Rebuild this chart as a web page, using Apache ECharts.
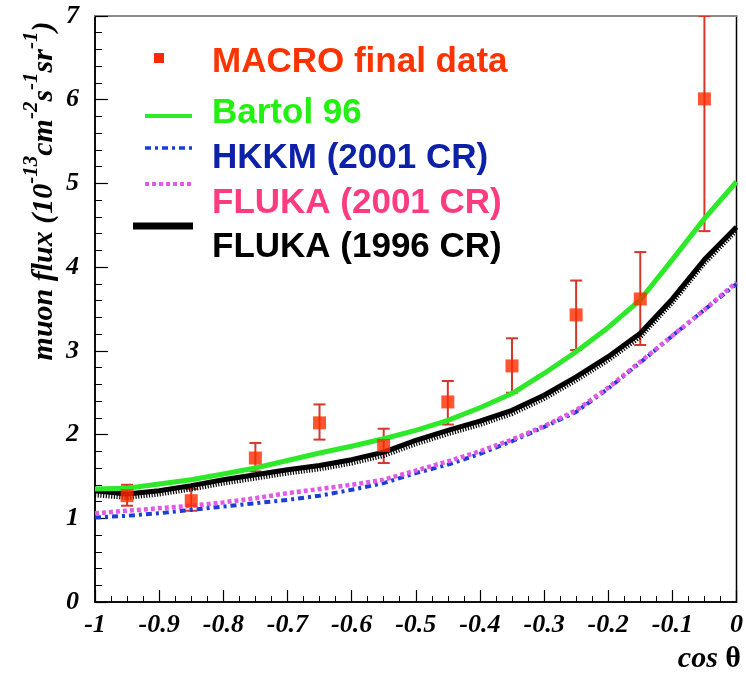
<!DOCTYPE html>
<html>
<head>
<meta charset="utf-8">
<title>Muon flux vs cos θ</title>
<script src="https://cdn.jsdelivr.net/npm/echarts@6/dist/echarts.min.js"></script>
<style>
  html, body { margin: 0; padding: 0; background: #fff; }
  #chart { width: 746px; height: 674px; }
</style>
</head>
<body>
<div id="chart"></div>
<script>
// cos(theta) sampling of the model curves
const cosTheta = [-1, -0.95, -0.9, -0.85, -0.8, -0.75, -0.7, -0.65, -0.6, -0.55, -0.5,
                  -0.45, -0.4, -0.35, -0.3, -0.25, -0.2, -0.15, -0.1, -0.05, 0];

// Model predictions, muon flux in 1e-13 cm^-2 s^-1 sr^-1
const bartol96  = [1.35, 1.36, 1.41, 1.46, 1.53, 1.60, 1.69, 1.78, 1.86, 1.95, 2.05,
                   2.17, 2.32, 2.49, 2.73, 2.99, 3.28, 3.61, 4.09, 4.58, 5.02];
const hkkm2001  = [1.01, 1.03, 1.06, 1.10, 1.14, 1.18, 1.22, 1.27, 1.34, 1.42, 1.54,
                   1.64, 1.77, 1.92, 2.09, 2.27, 2.55, 2.86, 3.18, 3.49, 3.80];
const fluka2001 = [1.06, 1.09, 1.12, 1.15, 1.19, 1.24, 1.30, 1.35, 1.40, 1.46, 1.57,
                   1.68, 1.80, 1.94, 2.10, 2.29, 2.56, 2.87, 3.18, 3.49, 3.82];
const fluka1996 = [1.33, 1.29, 1.33, 1.39, 1.46, 1.52, 1.58, 1.63, 1.70, 1.79, 1.93,
                   2.05, 2.16, 2.29, 2.47, 2.69, 2.93, 3.21, 3.62, 4.09, 4.48];
// hatched companion of the FLUKA 1996 curve
const fluka1996Hatch = [1.28, 1.25, 1.29, 1.35, 1.42, 1.48, 1.54, 1.59, 1.66, 1.75, 1.89,
                        2.01, 2.12, 2.25, 2.43, 2.65, 2.89, 3.17, 3.58, 4.05, 4.44];

// MACRO final data: bin centres, measured flux and error-bar limits
const macroCos  = [-0.95, -0.85, -0.75, -0.65, -0.55, -0.45, -0.35, -0.25, -0.15, -0.05];
const macroFlux = [1.27, 1.21, 1.72, 2.14, 1.87, 2.39, 2.82, 3.43, 3.62, 6.01];
const macroLow  = [1.15, 1.09, 1.56, 1.94, 1.66, 2.12, 2.50, 3.01, 3.07, 4.43];
const macroHigh = [1.40, 1.35, 1.90, 2.36, 2.07, 2.64, 3.15, 3.84, 4.18, 7.00];

// Axis ranges and ticks
const xRange = { min: -1, max: 0, step: 0.1 };
const yRange = { min: 0, max: 7, step: 1 };

const pairs = (xs, ys) => xs.map((x, i) => [x, ys[i]]);

const serifLabel = {
  fontFamily: '"Liberation Serif", "DejaVu Serif", serif',
  fontStyle: 'italic',
  fontWeight: 'bold',
  fontSize: 26,
  color: '#000'
};
const legendFont = 'bold 35px "Liberation Sans", Arial, sans-serif';

const chart = echarts.init(document.getElementById('chart'), null, { renderer: 'canvas' });

chart.setOption({
  animation: false,
  backgroundColor: '#fff',
  // frame: black border all round, the top edge is repainted grey by the second x axis
  grid: { left: 95, right: 5, top: 16, bottom: 72, show: true, borderColor: '#000', borderWidth: 1.5, backgroundColor: 'transparent' },
  xAxis: [
    {
      type: 'value', min: xRange.min, max: xRange.max, interval: xRange.step,
      axisLine: { show: true, onZero: false, lineStyle: { color: '#000', width: 1.5 } },
      axisTick: { show: true, inside: true, length: 12, lineStyle: { color: '#000', width: 1.2 } },
      minorTick: { show: true, splitNumber: 4, length: 6, lineStyle: { color: '#000', width: 1 } },
      splitLine: { show: false },
      axisLabel: Object.assign({ margin: 10 }, serifLabel)
    },
    {
      type: 'value', position: 'top', min: xRange.min, max: xRange.max,
      axisLine: { show: true, onZero: false, lineStyle: { color: '#8a8a8a', width: 2 } },
      axisTick: { show: false }, minorTick: { show: false },
      axisLabel: { show: false }, splitLine: { show: false }
    }
  ],
  yAxis: {
    type: 'value', position: 'left', min: yRange.min, max: yRange.max, interval: yRange.step,
    axisLine: { show: true, onZero: false, lineStyle: { color: '#000', width: 1.5 } },
    axisTick: { show: true, inside: true, length: 13, lineStyle: { color: '#000', width: 1.2 } },
    minorTick: { show: true, splitNumber: 5, length: 7, lineStyle: { color: '#000', width: 1 } },
    splitLine: { show: false },
    axisLabel: Object.assign({ margin: 16 }, serifLabel)
  },
  series: [
    {
      name: 'MACRO errors',
      type: 'custom',
      clip: true,
      z: 2,
      data: macroCos.map((x, i) => [x, macroLow[i], macroHigh[i]]),
      renderItem: function (params, api) {
        const lo = api.coord([api.value(0), api.value(1)]);
        const hi = api.coord([api.value(0), api.value(2)]);
        const w = 6;
        const style = { stroke: '#d3382a', lineWidth: 2 };
        return {
          type: 'group',
          children: [
            { type: 'line', shape: { x1: lo[0], y1: lo[1], x2: hi[0], y2: hi[1] }, style: style },
            { type: 'line', shape: { x1: lo[0] - w, y1: lo[1], x2: lo[0] + w, y2: lo[1] }, style: style },
            { type: 'line', shape: { x1: hi[0] - w, y1: hi[1], x2: hi[0] + w, y2: hi[1] }, style: style }
          ]
        };
      }
    },
    {
      name: 'HKKM (2001 CR)', type: 'line', z: 3, symbol: 'none',
      data: pairs(cosTheta, hkkm2001),
      lineStyle: { color: '#1c3ed8', width: 4, type: [6, 4, 3, 4] }
    },
    {
      name: 'FLUKA (2001 CR)', type: 'line', z: 3, symbol: 'none',
      data: pairs(cosTheta, fluka2001),
      lineStyle: { color: '#e05ae6', width: 4.5, type: [4, 3] }
    },
    {
      name: 'FLUKA (1996 CR) hatch', type: 'line', z: 3, symbol: 'none',
      data: pairs(cosTheta, fluka1996Hatch),
      lineStyle: { color: '#000', width: 5, type: [1.2, 1.5] }
    },
    {
      name: 'FLUKA (1996 CR)', type: 'line', z: 4, symbol: 'none',
      data: pairs(cosTheta, fluka1996),
      lineStyle: { color: '#000', width: 5 }
    },
    {
      name: 'Bartol 96', type: 'line', z: 4, symbol: 'none',
      data: pairs(cosTheta, bartol96),
      lineStyle: { color: '#2ee82a', width: 5 }
    },
    {
      name: 'MACRO final data', type: 'scatter', z: 5,
      symbol: 'rect', symbolSize: 13,
      data: pairs(macroCos, macroFlux),
      itemStyle: { color: '#ff2a00' }
    }
  ],
  graphic: [
    // legend
    { type: 'rect', shape: { x: 154, y: 53, width: 10, height: 10 }, style: { fill: '#ff2a00' } },
    { type: 'text', style: { text: 'MACRO final data', x: 212, y: 62, font: legendFont, fill: '#ff3300', textVerticalAlign: 'middle', verticalAlign: 'middle' } },
    { type: 'line', shape: { x1: 145, y1: 116, x2: 192, y2: 116 }, style: { stroke: '#2ee82a', lineWidth: 4 } },
    { type: 'text', style: { text: 'Bartol 96', x: 212, y: 113, font: legendFont, fill: '#22f010', textVerticalAlign: 'middle', verticalAlign: 'middle' } },
    { type: 'line', shape: { x1: 145, y1: 148, x2: 192, y2: 148 }, style: { stroke: '#1c3ed8', lineWidth: 3.5, lineDash: [6, 4, 3, 4] } },
    { type: 'text', style: { text: 'HKKM (2001 CR)', x: 212, y: 158, font: legendFont, fill: '#0c20a8', textVerticalAlign: 'middle', verticalAlign: 'middle' } },
    { type: 'line', shape: { x1: 145, y1: 184, x2: 192, y2: 184 }, style: { stroke: '#e05ae6', lineWidth: 4, lineDash: [4, 3] } },
    { type: 'text', style: { text: 'FLUKA (2001 CR)', x: 212, y: 203, font: legendFont, fill: '#ff3b80', textVerticalAlign: 'middle', verticalAlign: 'middle' } },
    { type: 'line', shape: { x1: 133, y1: 226, x2: 193, y2: 226 }, style: { stroke: '#000', lineWidth: 7 } },
    { type: 'text', style: { text: 'FLUKA (1996 CR)', x: 212, y: 247, font: legendFont, fill: '#000', textVerticalAlign: 'middle', verticalAlign: 'middle' } },
    // axis titles
    {
      type: 'text', x: 40, y: 191, rotation: Math.PI / 2,
      style: {
        text: '{b|muon flux (10}{s|-13}{b|cm}{s|-2}{b|s}{s|-1}{b|sr}{s|-1}{b|)}',
        align: 'center', verticalAlign: 'middle', textAlign: 'center', textVerticalAlign: 'middle',
        rich: {
          b: { font: 'italic bold 30px "Liberation Serif", serif', fill: '#000', lineHeight: 38, verticalAlign: 'bottom' },
          s: { font: 'italic bold 21px "Liberation Serif", serif', fill: '#000', lineHeight: 38, verticalAlign: 'top' }
        }
      }
    },
    {
      type: 'text', x: 741, y: 659,
      style: {
        text: '{i|cos }{t|θ}',
        align: 'right', verticalAlign: 'middle', textAlign: 'right', textVerticalAlign: 'middle',
        rich: {
          i: { font: 'italic bold 30px "Liberation Serif", serif', fill: '#000' },
          t: { font: 'bold 30px "Liberation Serif", serif', fill: '#000' }
        }
      }
    }
  ]
});
</script>
</body>
</html>
